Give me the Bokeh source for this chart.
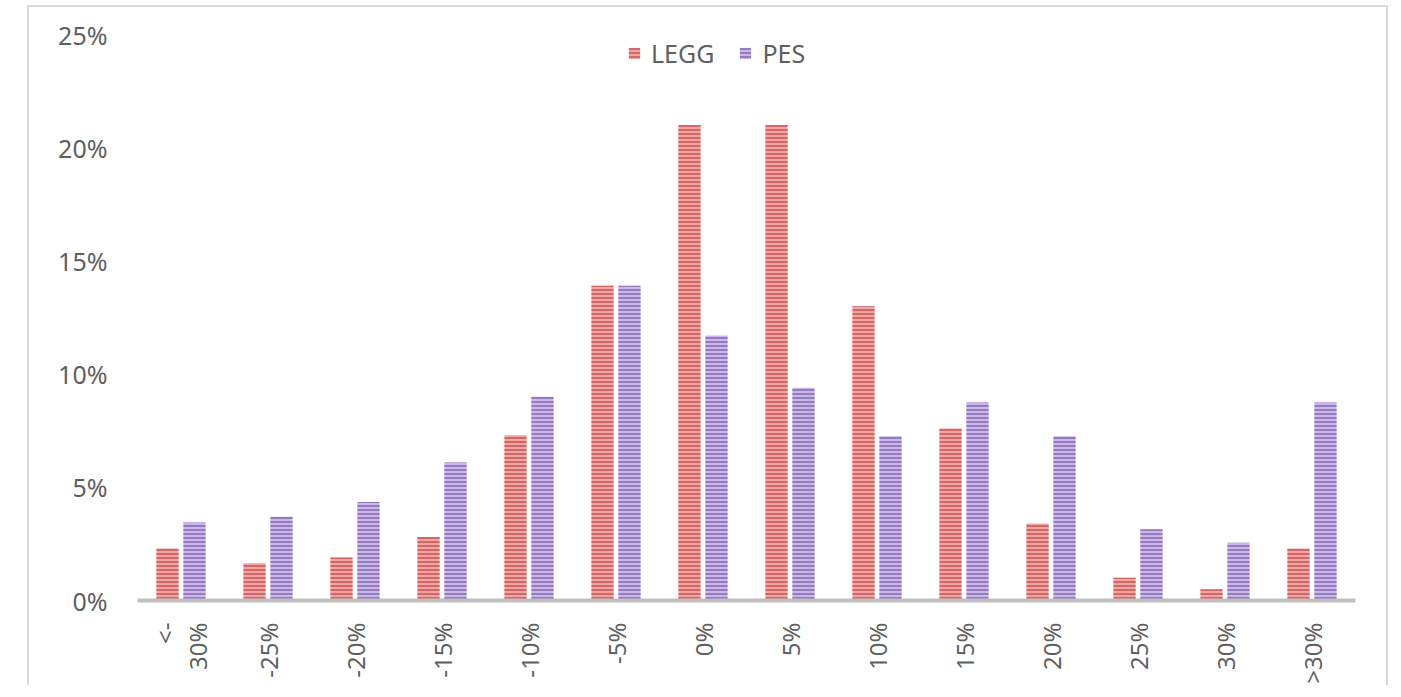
from math import pi
from bokeh.plotting import figure
from bokeh.models import (ColumnDataSource, FactorRange, FixedTicker, NumeralTickFormatter,
                          Legend, LegendItem)
from bokeh.transform import dodge
from bokeh.embed import file_html
from bokeh.resources import INLINE

categories = ["<-\n30%", "-25%", "-20%", "-15%", "-10%", "-5%", "0%", "5%",
              "10%", "15%", "20%", "25%", "30%", ">30%"]
legg = [2.3, 1.65, 1.9, 2.8, 7.3, 13.9, 21.0, 21.0, 13.0, 7.6, 3.4, 1.0, 0.5, 2.3]
pes = [3.45, 3.7, 4.35, 6.1, 9.0, 13.9, 11.7, 9.4, 7.25, 8.75, 7.25, 3.15, 2.55, 8.75]
y_ticks = [0, 0.05, 0.10, 0.15, 0.20, 0.25]
series_names = ["LEGG", "PES"]

src = ColumnDataSource(data=dict(
    cat=categories,
    legg=[v / 100 for v in legg],
    pes=[v / 100 for v in pes],
))

FONT = "Noto Sans"
TXT = "#5f5f5f"

p = figure(width=1361, height=680, x_range=FactorRange(*categories, range_padding=0),
           y_range=(0, 0.25), output_backend="svg", toolbar_location=None,
           min_border_left=108, min_border_right=35, min_border_top=27, min_border_bottom=87,
           styles={"margin-left": "27px", "margin-top": "5px",
                   "border-left": "2px solid #d9d9d9", "border-top": "2px solid #d9d9d9",
                   "border-right": "2px solid #d9d9d9"})
p.outline_line_color = None
p.grid.visible = False

r1 = p.vbar(x=dodge("cat", -0.155, range=p.x_range), top="legg", width=0.255, source=src,
            fill_color="#f4a3a3", line_color=None, hatch_pattern="horizontal_line",
            hatch_color="#c24f4f", hatch_scale=4, hatch_weight=1.4)
r2 = p.vbar(x=dodge("cat", 0.155, range=p.x_range), top="pes", width=0.255, source=src,
            fill_color="#c9b6ea", line_color=None, hatch_pattern="horizontal_line",
            hatch_color="#7f62a8", hatch_scale=4, hatch_weight=1.4)

legend = Legend(items=[LegendItem(label=series_names[0], renderers=[r1]),
                       LegendItem(label=series_names[1], renderers=[r2])],
                orientation="horizontal", location=(490, 530))
legend.border_line_color = None
legend.background_fill_alpha = 0
legend.label_text_font = FONT
legend.label_text_font_size = "25px"
legend.label_text_color = TXT
legend.glyph_width = 14
legend.glyph_height = 14
legend.spacing = 24
legend.label_standoff = 10
legend.margin = 0
legend.padding = 0
p.add_layout(legend, "center")

p.yaxis.ticker = FixedTicker(ticks=y_ticks)
p.yaxis.formatter = NumeralTickFormatter(format="0%")
p.yaxis.axis_line_color = None
p.yaxis.major_tick_line_color = None
p.yaxis.minor_tick_line_color = None
p.yaxis.major_label_standoff = 24
p.yaxis.major_label_text_font = FONT
p.yaxis.major_label_text_font_size = "25px"
p.yaxis.major_label_text_color = TXT

p.xaxis.axis_line_color = "#bfbfbf"
p.xaxis.axis_line_width = 4
p.xaxis.major_tick_line_color = None
p.xaxis.minor_tick_line_color = None
p.xaxis.major_label_orientation = pi / 2
p.xaxis.major_label_standoff = 16
p.xaxis.major_label_text_font = FONT
p.xaxis.major_label_text_font_size = "24px"
p.xaxis.major_label_text_line_height = 1.0
p.xaxis.major_label_text_color = TXT

open("out.html", "w").write(file_html(p, INLINE))
